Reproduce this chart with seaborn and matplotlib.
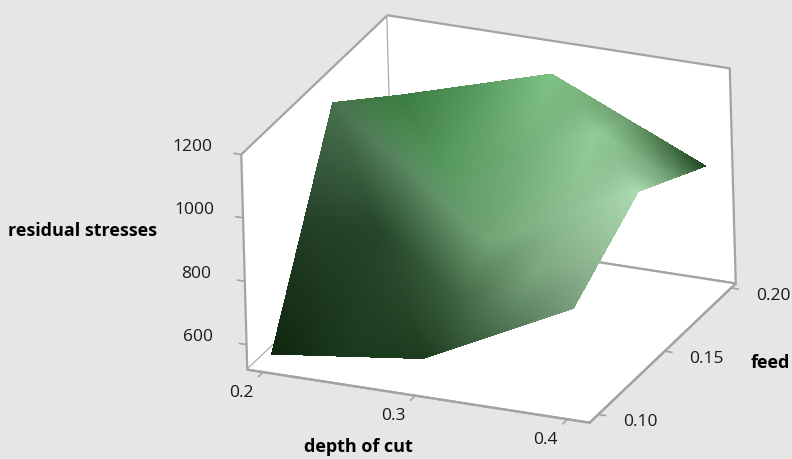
import numpy as np
import matplotlib
matplotlib.use("Agg")
import matplotlib.pyplot as plt
from mpl_toolkits.mplot3d import proj3d
import seaborn as sns

depth_of_cut = [0.2, 0.3, 0.4]
feed = [0.10, 0.15, 0.20]
# rows follow feed, columns follow depth of cut
residual_stress = [
    [552, 612, 845],
    [1146, 770, 1014],
    [970, 1111, 895],
]
# colours seen on the surface, at the grid points and half way between them
surface_colors = [
    ["#10260f", "#1b3a1e", "#1e3d20", "#4a7050", "#7a9f7c"],
    ["#243f27", "#26462a", "#3e6341", "#7aa47d", "#99c19c"],
    ["#4a7350", "#5b8a62", "#72a476", "#8dbd91", "#aedcb2"],
    ["#3f7a45", "#589a5f", "#73ad78", "#92cc97", "#6d9a71"],
    ["#3a7c41", "#57985e", "#80c486", "#6a9a6c", "#163d17"],
]
depth_ticks = [0.2, 0.3, 0.4]
feed_ticks = [0.10, 0.15, 0.20]
stress_ticks = [600, 800, 1000, 1200]
depth_labels = ["0.2", "0.3", "0.4"]
feed_labels = ["0.10", "0.15", "0.20"]
stress_labels = ["600", "800", "1000", "1200"]
BG = "#e6e6e6"
LINE = "#a3a3a3"
TEXT = "#1a1a1a"
XMIN, XMAX = 0.1895, 0.4145
YMIN, YMAX = 0.0935, 0.2035
ZMIN, ZMAX = 521, 1200


def refine(values, n=40):
    # the surface is flat between grid points, cut along one diagonal of each cell.
    # the extra vertices only let the colour change inside those facets
    values = np.asarray(values, dtype=float)
    nf, nd = values.shape
    out = np.zeros(((nf - 1) * n + 1, (nd - 1) * n + 1))
    for r in range(out.shape[0]):
        for c in range(out.shape[1]):
            j = min(r // n, nf - 2)
            i = min(c // n, nd - 2)
            v = r / n - j
            u = c / n - i
            if u + v <= 1:
                out[r, c] = values[j, i] + u * (values[j, i + 1] - values[j, i]) + v * (values[j + 1, i] - values[j, i])
            else:
                out[r, c] = values[j + 1, i + 1] + (1 - u) * (values[j + 1, i] - values[j + 1, i + 1]) + (1 - v) * (values[j, i + 1] - values[j + 1, i + 1])
    return out


def blend_colors(colors, n=20):
    rgb = np.array([sns.color_palette(row) for row in colors])
    pos = np.arange(rgb.shape[0])
    fine = np.linspace(0, rgb.shape[0] - 1, (rgb.shape[0] - 1) * n + 1)
    out = np.zeros((len(fine), len(fine), 3))
    for k in range(3):
        by_row = np.array([np.interp(fine, pos, row) for row in rgb[:, :, k]])
        out[:, :, k] = np.array([np.interp(fine, pos, col) for col in by_row.T]).T
    return out


def tick_label(x, y, z, label):
    # project to the plane of the picture, then a plain 2D text
    px, py, _ = proj3d.proj_transform(x, y, z, ax.get_proj())
    ax.text2D(px, py, label, transform=ax.transData, ha="center", va="center", fontsize=12.5, color=TEXT)


sns.set_theme(style="white")
plt.rcParams["font.family"] = ["Open Sans", "DejaVu Sans"]

fig = plt.figure(figsize=(7.92, 4.59), dpi=100, facecolor=BG)
S = 1000
cx, cy = 475, 232.5
ax = fig.add_axes([(cx - S / 2) / 792, 1 - (cy + S / 2) / 459, S / 792, S / 459], projection="3d", facecolor="none")
ax.set_proj_type("ortho")
ax.view_init(elev=24, azim=-65.7, roll=1.6)
ax.set_box_aspect((373.6, 364, 235.4), zoom=0.556)

xx = refine([depth_of_cut] * 3)
yy = refine(np.array([feed] * 3).T)
zz = refine(residual_stress)
cc = blend_colors(surface_colors)
ax.plot_surface(xx, yy, zz, facecolors=cc, rcount=zz.shape[0], ccount=zz.shape[1],
                shade=False, linewidth=0, antialiased=False)

# mplot3d cannot place tick labels off the axis like the reference, so ticks and labels are drawn here
tick_style = dict(color=LINE, linewidth=1.2, solid_capstyle="butt")
for d in depth_ticks:
    ax.plot([d, d], [YMIN, YMIN - 0.004], [ZMIN, ZMIN], **tick_style)
for f in feed_ticks:
    ax.plot([XMAX, XMAX + 0.0052], [f, f], [ZMIN, ZMIN], **tick_style)
for z in stress_ticks:
    ax.plot([XMIN, XMIN - 0.0052], [YMIN, YMIN], [z, z], **tick_style)

ax.set_xlim(XMIN, XMAX)
ax.set_ylim(YMIN, YMAX)
ax.set_zlim(ZMIN, ZMAX)
ax.set_xticks([])
ax.set_yticks([])
ax.set_zticks([])
ax.grid(False)
ax.zaxis.set_ticks_position("lower")

for d, label in zip(depth_ticks, depth_labels):
    tick_label(d - 0.0003, YMIN - 0.0163, ZMIN, label)
for f, label in zip(feed_ticks, feed_labels):
    tick_label(XMAX + 0.0285, f - 0.001, ZMIN, label)
for z, label in zip(stress_ticks, stress_labels):
    tick_label(XMIN - 0.0322, YMIN, z, label)

for axis in (ax.xaxis, ax.yaxis, ax.zaxis):
    axis.pane.set_facecolor("white")
    axis.pane.set_alpha(1)
    axis.pane.set_edgecolor(LINE)
    axis.pane.set_linewidth(1.6)
    axis.line.set_color(LINE)
    axis.line.set_linewidth(1.6)

fig.text(83 / 792, 1 - 231 / 459, "residual stresses", ha="center", va="center", fontsize=13, fontweight="bold", color="black")
fig.text(358 / 792, 1 - 447 / 459, "depth of cut", ha="center", va="center", fontsize=13, fontweight="bold", color="black")
fig.text(770 / 792, 1 - 363 / 459, "feed", ha="center", va="center", fontsize=13, fontweight="bold", color="black")

fig.savefig("out.png", dpi=100, facecolor=BG)
